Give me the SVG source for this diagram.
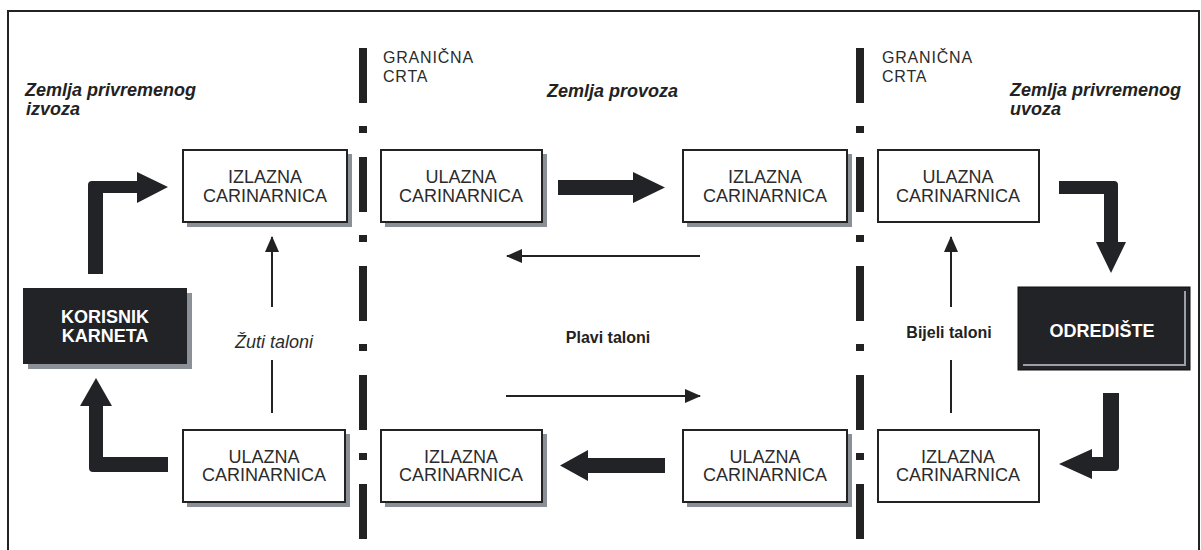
<svg xmlns="http://www.w3.org/2000/svg" width="1201" height="550" viewBox="0 0 1201 550">
<defs>
<style>
.box{fill:#fff;stroke:#222;stroke-width:2}
.shadow{fill:#8a9096}
.dark{fill:#222326}
.bt{font-family:"Liberation Sans",Arial,sans-serif;font-size:18px;fill:#2b2b2b;text-anchor:middle}
.wt{font-family:"Liberation Sans",Arial,sans-serif;font-size:18px;font-weight:bold;fill:#fff;text-anchor:middle}
.reg{font-family:"Liberation Sans",Arial,sans-serif;font-size:18px;font-style:italic;font-weight:bold;fill:#222}
.gc{font-family:"Liberation Sans",Arial,sans-serif;font-size:16px;letter-spacing:0.8px;fill:#2b2b2b}
.lbl{font-family:"Liberation Sans",Arial,sans-serif;font-size:16px;font-weight:bold;fill:#222;text-anchor:middle}
.thin{stroke:#222;stroke-width:2;fill:none}
.thick{fill:#222326}
.border{stroke:#222;stroke-width:8;stroke-dasharray:55 23 7 24;fill:none}
</style>
<marker id="ah" markerUnits="userSpaceOnUse" markerWidth="16" markerHeight="14" refX="15" refY="7" orient="auto">
<path d="M0,0 L16,7 L0,14 Z" fill="#222"/>
</marker>
</defs>

<path d="M8,550 V11 H1199 V550" fill="none" stroke="#222" stroke-width="2"/>

<g id="borders">
<line class="border" x1="363" y1="48" x2="363" y2="541"/>
<line class="border" x1="860" y1="48" x2="860" y2="541"/>
</g>

<g id="region-labels">
<text class="reg" x="25" y="96">Zemlja privremenog</text>
<text class="reg" x="26" y="115">izvoza</text>
<text class="gc" x="383" y="63">GRANIČNA</text>
<text class="gc" x="383" y="82">CRTA</text>
<text class="reg" x="547" y="97">Zemlja provoza</text>
<text class="gc" x="882" y="63">GRANIČNA</text>
<text class="gc" x="882" y="82">CRTA</text>
<text class="reg" x="1010" y="96">Zemlja privremenog</text>
<text class="reg" x="1010" y="115">uvoza</text>
</g>

<g id="n-izlazna-1">
<rect class="shadow" x="187" y="154" width="165" height="73"/>
<rect class="box" x="183" y="150" width="164" height="72"/>
<text class="bt" x="265" y="183">IZLAZNA</text>
<text class="bt" x="265" y="202">CARINARNICA</text>
</g>
<g id="n-ulazna-2">
<rect class="shadow" x="385" y="154" width="162" height="73"/>
<rect class="box" x="381" y="150" width="161" height="72"/>
<text class="bt" x="461" y="183">ULAZNA</text>
<text class="bt" x="461" y="202">CARINARNICA</text>
</g>
<g id="n-izlazna-3">
<rect class="shadow" x="687" y="154" width="165" height="73"/>
<rect class="box" x="683" y="150" width="164" height="72"/>
<text class="bt" x="765" y="183">IZLAZNA</text>
<text class="bt" x="765" y="202">CARINARNICA</text>
</g>
<g id="n-ulazna-4">
<rect class="box" x="878" y="150" width="161" height="72"/>
<text class="bt" x="958" y="183">ULAZNA</text>
<text class="bt" x="958" y="202">CARINARNICA</text>
</g>

<g id="n-ulazna-b1">
<rect class="shadow" x="187" y="434" width="163" height="73"/>
<rect class="box" x="183" y="430" width="162" height="72"/>
<text class="bt" x="264" y="463">ULAZNA</text>
<text class="bt" x="264" y="481">CARINARNICA</text>
</g>
<g id="n-izlazna-b2">
<rect class="shadow" x="385" y="434" width="162" height="73"/>
<rect class="box" x="381" y="430" width="161" height="72"/>
<text class="bt" x="461" y="463">IZLAZNA</text>
<text class="bt" x="461" y="481">CARINARNICA</text>
</g>
<g id="n-ulazna-b3">
<rect class="shadow" x="687" y="434" width="165" height="73"/>
<rect class="box" x="683" y="430" width="164" height="72"/>
<text class="bt" x="765" y="463">ULAZNA</text>
<text class="bt" x="765" y="481">CARINARNICA</text>
</g>
<g id="n-izlazna-b4">
<rect class="box" x="878" y="430" width="161" height="72"/>
<text class="bt" x="958" y="463">IZLAZNA</text>
<text class="bt" x="958" y="481">CARINARNICA</text>
</g>

<g id="n-korisnik">
<rect class="shadow" x="28" y="293" width="164" height="76"/>
<rect class="dark" x="23" y="288" width="164" height="76"/>
<text class="wt" x="105" y="323">KORISNIK</text>
<text class="wt" x="105" y="342">KARNETA</text>
</g>
<g id="n-odrediste">
<rect class="dark" x="1018" y="287" width="172" height="83" stroke="#111" stroke-width="1"/>
<path d="M1185,291 V365 H1023" fill="none" stroke="#9aa0a6" stroke-width="2"/>
<text class="wt" x="1102" y="337">ODREDIŠTE</text>
</g>

<g id="connectors">
<path class="thick" d="M88,274 V185 Q88,181 92,181 H137 V172 L168,187 L137,203 V193 H103 V274 Z"/>
<path class="thick" d="M168,457 H103 V406 H112 L96,378 L80,406 H89 V468 Q89,472 93,472 H168 Z"/>
<path class="thick" d="M558,180 H633 V172 L665,187.5 L633,203 V195 H558 Z"/>
<path class="thick" d="M665,458 H588 V450 L560,465.5 L588,481 V473 H665 Z"/>
<path class="thick" d="M1059,181 H1114 Q1118,181 1118,185 V242 H1126 L1111,273 L1096,242 H1104 V194 H1059 Z"/>
<path class="thick" d="M1103,393 H1119 V467 Q1119,471 1115,471 H1092 V479 L1059,464 L1092,449 V457 H1103 Z"/>
<line class="thin" x1="272" y1="413" x2="272" y2="360"/>
<line class="thin" x1="272" y1="307" x2="272" y2="237" marker-end="url(#ah)"/>
<line class="thin" x1="951" y1="413" x2="951" y2="360"/>
<line class="thin" x1="951" y1="307" x2="951" y2="237" marker-end="url(#ah)"/>
<line class="thin" x1="700" y1="256" x2="507" y2="256" marker-end="url(#ah)"/>
<line class="thin" x1="506" y1="396" x2="700" y2="396" marker-end="url(#ah)"/>
</g>

<g id="flow-labels">
<text class="bt" x="274" y="348" style="font-style:italic">Žuti taloni</text>
<text class="lbl" x="608" y="343">Plavi taloni</text>
<text class="lbl" x="949" y="338">Bijeli taloni</text>
</g>
</svg>
